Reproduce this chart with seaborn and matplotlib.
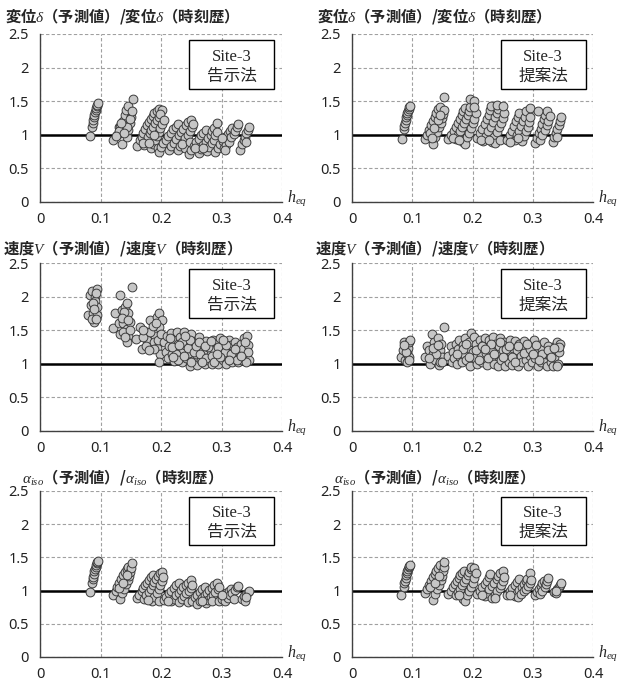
import matplotlib
matplotlib.use("Agg")
import matplotlib.pyplot as plt
import seaborn as sns
from matplotlib.patches import Rectangle

sns.set_theme(style="white")
plt.rcParams["font.family"] = ["Noto Sans CJK JP", "DejaVu Sans"]
plt.rcParams["mathtext.fontset"] = "custom"
plt.rcParams["mathtext.it"] = "Liberation Serif:italic"
plt.rcParams["mathtext.rm"] = "Liberation Serif"

# ---- data (h_eq, ratio) ----
disp_kokuji = [
    (0.082, 0.98), (0.086, 1.12), (0.087, 1.17), (0.088, 1.22), (0.089, 1.26), (0.090, 1.30),
    (0.091, 1.34), (0.092, 1.37), (0.093, 1.40), (0.094, 1.43), (0.095, 1.45), (0.096, 1.47),
    (0.121, 0.92), (0.127, 1.00), (0.135, 0.87), (0.130, 1.12), (0.138, 1.20), (0.141, 1.30),
    (0.142, 1.37), (0.146, 1.43), (0.153, 1.54), (0.143, 0.97), (0.146, 1.07), (0.149, 1.17),
    (0.150, 1.27), (0.138, 1.05), (0.133, 1.12), (0.130, 1.05), (0.144, 1.12), (0.125, 0.98),
    (0.134, 1.18), (0.148, 1.24), (0.152, 1.36), (0.139, 1.03),
    (0.161, 0.84), (0.165, 0.92), (0.168, 0.97), (0.171, 1.03), (0.174, 1.09), (0.177, 1.14),
    (0.180, 1.19), (0.183, 1.24), (0.186, 1.28), (0.189, 1.33), (0.193, 1.36), (0.197, 1.39),
    (0.202, 1.37), (0.172, 0.85), (0.175, 0.90), (0.178, 0.96), (0.181, 1.02), (0.184, 1.07),
    (0.187, 1.12), (0.190, 1.17), (0.193, 1.22), (0.196, 1.27), (0.199, 1.31), (0.184, 0.80),
    (0.187, 0.86), (0.190, 0.92), (0.193, 0.98), (0.196, 1.04), (0.199, 1.10), (0.202, 1.16),
    (0.205, 1.22), (0.170, 0.88), (0.180, 0.88), (0.189, 1.00), (0.195, 0.80),
    (0.196, 0.75), (0.200, 0.82), (0.204, 0.88), (0.208, 0.93), (0.212, 0.98), (0.216, 1.03),
    (0.220, 1.08), (0.224, 1.12), (0.228, 1.16), (0.213, 0.77), (0.217, 0.83), (0.221, 0.88),
    (0.225, 0.94), (0.229, 0.99), (0.233, 1.04), (0.237, 1.09), (0.241, 1.14), (0.245, 1.19),
    (0.250, 1.22), (0.228, 0.78), (0.232, 0.84), (0.236, 0.89), (0.240, 0.95), (0.244, 1.00),
    (0.248, 1.06), (0.251, 1.11), (0.253, 1.16), (0.240, 0.80), (0.235, 0.86), (0.248, 0.90),
    (0.246, 0.72), (0.250, 0.78), (0.254, 0.84), (0.258, 0.89), (0.262, 0.94), (0.266, 0.99),
    (0.270, 1.03), (0.274, 1.07), (0.262, 0.73), (0.266, 0.79), (0.270, 0.85), (0.274, 0.90),
    (0.278, 0.95), (0.282, 1.00), (0.285, 1.05), (0.288, 1.10), (0.292, 1.17), (0.276, 0.76),
    (0.280, 0.82), (0.284, 0.88), (0.287, 0.93), (0.290, 0.99), (0.293, 1.04), (0.256, 0.80),
    (0.270, 0.80),
    (0.290, 0.75), (0.294, 0.81), (0.298, 0.86), (0.302, 0.91), (0.306, 0.96), (0.310, 1.01),
    (0.314, 1.06), (0.318, 1.10), (0.304, 0.80), (0.308, 0.85), (0.312, 0.90), (0.316, 0.96),
    (0.320, 1.01), (0.323, 1.06), (0.326, 1.12), (0.328, 1.16), (0.300, 0.95), (0.306, 0.78),
    (0.331, 0.78), (0.334, 0.86), (0.337, 0.92), (0.339, 0.97), (0.341, 1.02), (0.343, 1.07),
    (0.345, 1.11), (0.340, 0.90),
]

disp_teian = [
    (0.083, 0.94), (0.086, 1.08), (0.087, 1.13), (0.088, 1.18), (0.089, 1.22), (0.090, 1.26),
    (0.091, 1.30), (0.092, 1.33), (0.093, 1.36), (0.094, 1.39), (0.095, 1.41), (0.096, 1.43),
    (0.121, 0.94), (0.125, 1.00), (0.128, 1.07), (0.131, 1.14), (0.134, 1.20), (0.137, 1.26),
    (0.140, 1.32), (0.143, 1.38), (0.146, 1.42), (0.135, 0.87), (0.138, 0.96), (0.141, 1.04),
    (0.144, 1.11), (0.147, 1.18), (0.149, 1.25), (0.151, 1.31), (0.152, 1.37), (0.152, 1.56),
    (0.130, 1.02), (0.136, 1.10), (0.142, 1.22), (0.146, 1.30), (0.133, 0.95),
    (0.160, 0.94), (0.165, 1.00), (0.169, 1.06), (0.173, 1.12), (0.176, 1.18), (0.179, 1.24),
    (0.182, 1.30), (0.185, 1.35), (0.188, 1.40), (0.172, 0.94), (0.176, 1.00), (0.180, 1.06),
    (0.183, 1.12), (0.186, 1.18), (0.189, 1.24), (0.192, 1.30), (0.194, 1.36), (0.196, 1.42),
    (0.196, 1.54), (0.202, 1.50), (0.184, 0.90), (0.188, 0.87), (0.191, 0.96), (0.194, 1.03),
    (0.197, 1.10), (0.200, 1.17), (0.203, 1.24), (0.205, 1.32), (0.203, 1.41), (0.168, 0.95),
    (0.178, 0.93),
    (0.208, 0.95), (0.212, 1.02), (0.216, 1.09), (0.220, 1.16), (0.224, 1.23), (0.227, 1.30),
    (0.229, 1.37), (0.231, 1.43), (0.218, 0.91), (0.222, 0.98), (0.226, 1.05), (0.230, 1.12),
    (0.234, 1.19), (0.237, 1.26), (0.240, 1.33), (0.242, 1.39), (0.241, 1.44), (0.232, 0.90),
    (0.236, 0.97), (0.240, 1.04), (0.244, 1.11), (0.247, 1.18), (0.250, 1.25), (0.252, 1.32),
    (0.251, 1.43), (0.237, 0.88), (0.245, 0.93), (0.214, 0.93), (0.228, 0.93),
    (0.258, 0.93), (0.262, 0.99), (0.266, 1.06), (0.269, 1.13), (0.272, 1.20), (0.275, 1.27),
    (0.277, 1.33), (0.270, 0.92), (0.274, 0.99), (0.278, 1.06), (0.281, 1.13), (0.284, 1.20),
    (0.287, 1.27), (0.289, 1.35), (0.282, 0.91), (0.286, 0.98), (0.289, 1.05), (0.292, 1.12),
    (0.294, 1.19), (0.296, 1.27), (0.296, 1.40), (0.262, 0.90), (0.276, 0.95),
    (0.304, 0.88), (0.307, 0.95), (0.310, 1.02), (0.313, 1.09), (0.316, 1.16), (0.318, 1.23),
    (0.320, 1.29), (0.324, 1.35), (0.312, 0.93), (0.316, 1.00), (0.320, 1.07), (0.323, 1.14),
    (0.326, 1.21), (0.328, 1.28), (0.308, 1.35),
    (0.333, 0.89), (0.336, 0.96), (0.339, 1.03), (0.341, 1.09), (0.343, 1.15), (0.345, 1.21),
    (0.347, 1.26), (0.340, 0.97),
]

vel_kokuji = [
    (0.080, 1.73), (0.083, 2.02), (0.086, 2.08), (0.094, 2.12), (0.091, 1.99), (0.084, 1.87),
    (0.091, 1.94), (0.088, 1.76), (0.090, 1.62), (0.094, 1.72), (0.086, 1.67), (0.094, 1.85),
    (0.088, 1.90), (0.092, 2.05), (0.089, 1.81), (0.093, 1.66),
    (0.121, 1.53), (0.132, 2.02), (0.152, 2.14), (0.124, 1.75), (0.130, 1.60), (0.135, 1.80),
    (0.141, 1.85), (0.143, 1.91), (0.141, 1.70), (0.146, 1.75), (0.138, 1.60), (0.143, 1.52),
    (0.146, 1.42), (0.143, 1.33), (0.149, 1.62), (0.132, 1.45), (0.138, 1.47), (0.139, 1.77),
    (0.136, 1.68), (0.145, 1.65), (0.148, 1.50), (0.140, 1.40),
    (0.159, 1.37), (0.168, 1.22), (0.166, 1.55), (0.177, 1.47), (0.182, 1.65), (0.193, 1.70),
    (0.197, 1.76), (0.201, 1.65), (0.185, 1.30), (0.177, 1.35), (0.190, 1.42), (0.171, 1.40),
    (0.196, 1.55), (0.182, 1.47), (0.189, 1.32), (0.193, 1.23), (0.199, 1.14), (0.197, 1.02),
    (0.188, 1.22), (0.175, 1.27), (0.186, 1.56), (0.195, 1.36), (0.200, 1.45), (0.180, 1.20),
    (0.192, 1.60), (0.170, 1.50),
    (0.205, 1.32), (0.208, 1.18), (0.210, 1.42), (0.212, 1.08), (0.214, 1.26), (0.216, 1.46),
    (0.218, 1.14), (0.220, 1.35), (0.222, 1.04), (0.224, 1.22), (0.226, 1.47), (0.228, 1.30),
    (0.230, 1.12), (0.232, 1.40), (0.234, 1.02), (0.236, 1.20), (0.238, 1.48), (0.240, 1.28),
    (0.242, 1.08), (0.244, 1.36), (0.246, 1.16), (0.248, 0.97), (0.250, 1.44), (0.252, 1.25),
    (0.254, 1.06), (0.256, 1.33), (0.258, 1.14), (0.260, 0.98), (0.262, 1.40), (0.264, 1.22),
    (0.266, 1.05), (0.268, 1.30), (0.270, 1.12), (0.272, 0.99), (0.274, 1.34), (0.276, 1.20),
    (0.278, 1.05), (0.280, 1.28), (0.282, 1.15), (0.284, 0.99), (0.286, 1.36), (0.288, 1.22),
    (0.290, 1.08), (0.292, 1.30), (0.294, 1.00), (0.296, 1.17), (0.298, 1.38), (0.300, 1.25),
    (0.302, 1.05), (0.304, 1.32), (0.306, 1.12), (0.308, 1.00), (0.310, 1.22), (0.312, 1.36),
    (0.314, 1.08), (0.316, 1.28), (0.318, 1.02), (0.320, 1.18), (0.322, 1.33), (0.324, 1.10),
    (0.326, 1.25), (0.328, 1.03), (0.330, 1.15), (0.332, 1.30), (0.334, 1.05), (0.336, 1.22),
    (0.338, 1.38), (0.340, 1.12), (0.342, 1.42), (0.344, 1.28), (0.345, 1.05), (0.343, 1.18),
    (0.341, 1.02), (0.339, 1.32),
    (0.215, 1.38), (0.225, 1.15), (0.235, 1.32), (0.245, 1.24), (0.255, 1.18), (0.265, 1.14),
    (0.275, 1.08), (0.285, 1.12), (0.295, 1.25), (0.305, 1.18), (0.315, 1.15), (0.325, 1.06),
    (0.218, 1.25), (0.228, 1.06), (0.238, 1.12), (0.248, 1.35), (0.258, 1.27), (0.268, 1.02),
    (0.278, 1.25), (0.288, 1.02), (0.298, 1.10), (0.308, 1.28), (0.262, 1.32), (0.272, 1.26),
    (0.282, 1.34), (0.292, 1.15), (0.302, 1.35), (0.312, 1.05), (0.322, 1.22), (0.332, 1.12),
    (0.250, 1.02), (0.240, 1.42), (0.230, 1.28), (0.220, 1.10),
]

vel_teian = [
    (0.082, 1.10), (0.085, 1.20), (0.086, 1.33), (0.088, 1.05), (0.090, 1.27), (0.091, 1.15),
    (0.092, 1.02), (0.093, 1.24), (0.094, 1.32), (0.095, 1.10), (0.096, 1.35), (0.089, 1.18),
    (0.087, 1.28), (0.094, 1.05),
    (0.121, 1.10), (0.124, 1.27), (0.128, 1.20), (0.130, 1.00), (0.132, 1.45), (0.134, 1.15),
    (0.136, 1.32), (0.138, 1.05), (0.140, 1.25), (0.142, 1.38), (0.144, 0.98), (0.146, 1.20),
    (0.148, 1.30), (0.150, 1.10), (0.152, 1.55), (0.146, 1.03), (0.139, 1.14), (0.135, 1.24),
    (0.127, 1.08), (0.143, 1.28), (0.149, 1.02),
    (0.160, 1.12), (0.164, 1.27), (0.166, 1.02), (0.168, 1.18), (0.170, 1.08), (0.172, 1.30),
    (0.174, 0.99), (0.176, 1.22), (0.178, 1.36), (0.180, 1.10), (0.182, 1.02), (0.184, 1.28),
    (0.186, 1.15), (0.188, 1.38), (0.190, 1.05), (0.192, 1.24), (0.194, 1.33), (0.196, 0.97),
    (0.198, 1.46), (0.200, 1.18), (0.202, 1.40), (0.204, 1.08), (0.206, 1.30), (0.208, 0.99),
    (0.210, 1.22), (0.212, 1.36), (0.214, 1.12), (0.216, 1.02), (0.218, 1.28), (0.220, 1.38),
    (0.222, 1.16), (0.224, 0.98), (0.226, 1.25), (0.228, 1.35), (0.230, 1.08), (0.232, 1.20),
    (0.234, 1.40), (0.236, 1.00), (0.238, 1.30), (0.240, 1.14), (0.242, 0.97), (0.244, 1.26),
    (0.246, 1.38), (0.248, 1.05), (0.250, 1.20), (0.252, 1.33), (0.254, 0.96), (0.256, 1.12),
    (0.258, 1.28), (0.260, 1.02), (0.262, 1.35), (0.264, 1.18), (0.266, 0.98), (0.268, 1.24),
    (0.270, 1.34), (0.272, 1.08), (0.274, 1.20), (0.276, 0.97), (0.278, 1.30), (0.280, 1.12),
    (0.282, 1.02), (0.284, 1.25), (0.286, 1.34), (0.288, 1.06), (0.290, 1.18), (0.292, 0.97),
    (0.294, 1.30), (0.296, 1.12), (0.298, 1.02), (0.300, 1.24), (0.302, 1.35), (0.304, 1.08),
    (0.306, 1.18), (0.308, 0.97), (0.310, 1.28), (0.312, 1.10), (0.314, 1.02), (0.316, 1.22),
    (0.318, 1.33), (0.320, 1.05), (0.322, 1.15), (0.324, 0.97), (0.326, 1.26), (0.328, 1.12),
    (0.330, 1.02), (0.332, 1.20), (0.334, 0.96), (0.336, 1.10), (0.338, 1.28), (0.340, 1.33),
    (0.342, 1.00), (0.344, 1.18), (0.345, 1.30), (0.341, 0.96), (0.343, 1.25),
    (0.185, 1.22), (0.195, 1.10), (0.205, 1.20), (0.215, 1.26), (0.225, 1.08), (0.235, 1.15),
    (0.245, 1.32), (0.255, 1.22), (0.265, 1.10), (0.275, 1.26), (0.285, 1.16), (0.295, 1.22),
    (0.305, 1.28), (0.315, 1.14), (0.325, 1.20), (0.335, 1.24), (0.190, 1.30), (0.210, 1.05),
    (0.230, 1.30), (0.250, 1.10), (0.270, 1.02), (0.290, 1.30), (0.310, 1.05), (0.330, 1.10),
    (0.175, 1.15), (0.220, 1.22), (0.260, 1.26), (0.300, 1.14),
]

alpha_kokuji = [
    (0.082, 0.98), (0.086, 1.12), (0.087, 1.17), (0.088, 1.21), (0.089, 1.25), (0.090, 1.29),
    (0.091, 1.33), (0.092, 1.36), (0.093, 1.39), (0.094, 1.41), (0.095, 1.43), (0.096, 1.45),
    (0.121, 0.94), (0.125, 1.00), (0.128, 1.06), (0.131, 1.12), (0.134, 1.18), (0.137, 1.23),
    (0.140, 1.28), (0.143, 1.32), (0.146, 1.36), (0.133, 0.88), (0.136, 0.96), (0.139, 1.03),
    (0.142, 1.10), (0.145, 1.16), (0.147, 1.22), (0.149, 1.28), (0.151, 1.34), (0.152, 1.41),
    (0.130, 1.04), (0.138, 1.12), (0.144, 1.24),
    (0.160, 0.89), (0.164, 0.94), (0.168, 0.99), (0.171, 1.04), (0.174, 1.08), (0.177, 1.12),
    (0.180, 1.16), (0.183, 1.20), (0.186, 1.23), (0.172, 0.88), (0.176, 0.93), (0.180, 0.98),
    (0.183, 1.03), (0.186, 1.08), (0.189, 1.13), (0.192, 1.18), (0.195, 1.22), (0.198, 1.26),
    (0.201, 1.28), (0.185, 0.84), (0.189, 0.90), (0.193, 0.96), (0.196, 1.02), (0.199, 1.08),
    (0.202, 1.14), (0.204, 1.20), (0.178, 0.86), (0.196, 0.85),
    (0.205, 0.86), (0.209, 0.91), (0.213, 0.96), (0.217, 1.00), (0.221, 1.04), (0.225, 1.08),
    (0.229, 1.11), (0.217, 0.84), (0.221, 0.88), (0.225, 0.93), (0.229, 0.97), (0.233, 1.01),
    (0.237, 1.05), (0.241, 1.09), (0.245, 1.12), (0.250, 1.16), (0.230, 0.83), (0.234, 0.87),
    (0.238, 0.92), (0.242, 0.96), (0.246, 1.00), (0.249, 1.04), (0.252, 1.08), (0.245, 0.83),
    (0.212, 0.84),
    (0.252, 0.85), (0.256, 0.90), (0.260, 0.94), (0.264, 0.98), (0.268, 1.02), (0.272, 1.05),
    (0.260, 0.80), (0.264, 0.85), (0.268, 0.89), (0.272, 0.93), (0.276, 0.97), (0.280, 1.01),
    (0.284, 1.04), (0.288, 1.08), (0.292, 1.11), (0.274, 0.82), (0.278, 0.86), (0.282, 0.90),
    (0.286, 0.94), (0.290, 0.98), (0.294, 1.02), (0.296, 1.06), (0.268, 0.84), (0.285, 0.84),
    (0.296, 0.84), (0.300, 0.88), (0.304, 0.92), (0.308, 0.96), (0.312, 1.00), (0.316, 1.02),
    (0.306, 0.85), (0.310, 0.89), (0.314, 0.93), (0.318, 0.97), (0.322, 1.01), (0.325, 1.05),
    (0.327, 1.07), (0.300, 0.94), (0.320, 0.88),
    (0.334, 0.88), (0.337, 0.92), (0.339, 0.84), (0.341, 0.95), (0.343, 0.98), (0.345, 1.00),
    (0.340, 0.90),
]

alpha_teian = [
    (0.082, 0.94), (0.086, 1.06), (0.087, 1.11), (0.088, 1.15), (0.089, 1.19), (0.090, 1.23),
    (0.091, 1.27), (0.092, 1.30), (0.093, 1.33), (0.094, 1.35), (0.095, 1.37), (0.096, 1.39),
    (0.121, 0.96), (0.125, 1.02), (0.128, 1.08), (0.131, 1.14), (0.134, 1.20), (0.137, 1.25),
    (0.140, 1.30), (0.143, 1.34), (0.146, 1.38), (0.135, 0.86), (0.138, 0.95), (0.141, 1.02),
    (0.144, 1.09), (0.147, 1.16), (0.149, 1.22), (0.151, 1.29), (0.152, 1.35), (0.152, 1.43),
    (0.130, 1.05), (0.137, 1.12), (0.144, 1.22),
    (0.160, 0.95), (0.164, 1.00), (0.168, 1.05), (0.171, 1.10), (0.174, 1.15), (0.177, 1.19),
    (0.180, 1.23), (0.183, 1.27), (0.186, 1.30), (0.172, 0.93), (0.176, 0.98), (0.180, 1.03),
    (0.183, 1.08), (0.186, 1.13), (0.189, 1.18), (0.192, 1.23), (0.195, 1.28), (0.197, 1.33),
    (0.198, 1.36), (0.202, 1.34), (0.185, 0.88), (0.188, 0.85), (0.191, 0.94), (0.194, 1.00),
    (0.197, 1.06), (0.200, 1.12), (0.203, 1.19), (0.205, 1.26), (0.178, 0.93),
    (0.208, 0.95), (0.212, 1.00), (0.216, 1.05), (0.220, 1.10), (0.224, 1.15), (0.227, 1.20),
    (0.229, 1.25), (0.220, 0.92), (0.224, 0.97), (0.228, 1.02), (0.232, 1.07), (0.236, 1.12),
    (0.240, 1.17), (0.243, 1.22), (0.246, 1.26), (0.250, 1.30), (0.233, 0.89), (0.237, 0.94),
    (0.241, 0.99), (0.245, 1.04), (0.248, 1.09), (0.251, 1.14), (0.253, 1.20), (0.237, 0.89),
    (0.215, 0.94),
    (0.258, 0.94), (0.262, 0.99), (0.266, 1.04), (0.270, 1.09), (0.274, 1.13), (0.277, 1.17),
    (0.270, 0.92), (0.274, 0.97), (0.278, 1.01), (0.282, 1.06), (0.285, 1.10), (0.288, 1.14),
    (0.291, 1.18), (0.295, 1.26), (0.276, 0.91), (0.281, 0.95), (0.285, 0.99), (0.289, 1.03),
    (0.292, 1.07), (0.295, 1.12), (0.297, 1.16), (0.262, 0.94),
    (0.304, 0.94), (0.307, 0.98), (0.310, 1.03), (0.313, 1.07), (0.316, 1.11), (0.318, 1.14),
    (0.312, 0.95), (0.316, 1.00), (0.320, 1.05), (0.322, 1.10), (0.324, 1.15), (0.325, 1.19),
    (0.336, 0.98), (0.339, 0.96), (0.341, 1.02), (0.343, 1.06), (0.345, 1.09), (0.347, 1.11),
    (0.338, 1.00),
]

titles = [
    r"変位$\delta$（予測値）/変位$\delta$（時刻歴）",
    r"速度$V$（予測値）/速度$V$（時刻歴）",
    r"$\alpha_{iso}$（予測値）/$\alpha_{iso}$（時刻歴）",
]
methods = ["告示法", "提案法"]
site_name = "Site-3"
x_ticks = [0, 0.1, 0.2, 0.3, 0.4]
x_ticklabels = ["0", "0.1", "0.2", "0.3", "0.4"]
y_ticks = [0, 0.5, 1, 1.5, 2, 2.5]
y_ticklabels = ["0", "0.5", "1", "1.5", "2", "2.5"]

panels = [
    [disp_kokuji, disp_teian],
    [vel_kokuji, vel_teian],
    [alpha_kokuji, alpha_teian],
]

W, H = 618, 686
fig = plt.figure(figsize=(W / 100, H / 100), dpi=100)

col_left = [40, 352]
col_width = [242, 241]
row_top = [34, 263, 491]
row_bot = [202, 431, 657]
title_y = [16, 248, 477]

for r in range(3):
    for c in range(2):
        pts = panels[r][c]
        xs = [p[0] for p in pts]
        ys = [p[1] for p in pts]
        ax = fig.add_axes([col_left[c] / W, 1 - row_bot[r] / H,
                           col_width[c] / W, (row_bot[r] - row_top[r]) / H])
        ax.set_axisbelow(True)
        ax.grid(True, color="#a0a0a0", linestyle=(0, (3, 2)), linewidth=0.8)
        ax.axhline(1, color="black", lw=1.8, zorder=2)
        sns.scatterplot(x=xs, y=ys, ax=ax, s=40, color="#c6c6c6",
                        edgecolor="#3c3c3c", linewidth=0.7, zorder=3, legend=False)
        ax.set_xlim(0, 0.4)
        ax.set_ylim(0, 2.5)
        ax.set_xticks(x_ticks)
        ax.set_xticklabels(x_ticklabels)
        ax.set_yticks(y_ticks)
        ax.set_yticklabels(y_ticklabels)
        ax.set_xlabel("")
        ax.set_ylabel("")
        for s in ["top", "right"]:
            ax.spines[s].set_visible(False)
        for s in ["left", "bottom"]:
            ax.spines[s].set_color("#404040")
            ax.spines[s].set_linewidth(1.0)
        ax.tick_params(axis="both", length=0, labelsize=10.5, colors="#222222")
        ax.tick_params(axis="y", pad=8)
        ax.tick_params(axis="x", pad=7)
        for lbl in ax.get_xticklabels() + ax.get_yticklabels():
            lbl.set_fontfamily("Noto Sans")

        ax.text(1.02, 0.0, r"$h_{eq}$", transform=ax.transAxes,
                fontsize=11.5, ha="left", va="baseline", clip_on=False)

        ax.add_patch(Rectangle((0.617, 0.673), 0.352, 0.291, transform=ax.transAxes,
                               facecolor="white", edgecolor="black", lw=1.0, zorder=5))
        ax.text(0.793, 0.865, site_name, transform=ax.transAxes, ha="center", va="center",
                fontsize=12, family="Liberation Serif", zorder=6)
        ax.text(0.793, 0.75, methods[c], transform=ax.transAxes, ha="center", va="center",
                fontsize=12, family="Noto Sans CJK JP", zorder=6)

        fig.text((col_left[c] + 78) / W, 1 - title_y[r] / H, titles[r],
                 ha="center", va="center", fontsize=11, weight="bold",
                 family=["Noto Sans CJK JP", "DejaVu Sans"])

fig.savefig("out.png", dpi=100)
